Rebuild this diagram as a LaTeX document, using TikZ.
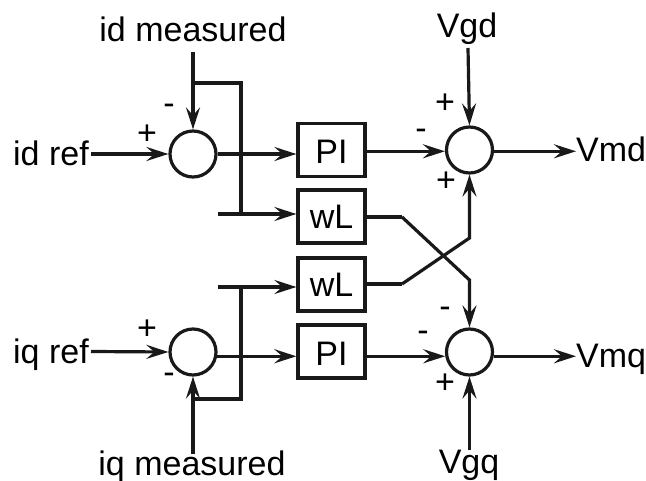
\documentclass[tikz,border=0pt]{standalone}
\usepackage{fontspec}
\setmainfont{Liberation Sans}
\usetikzlibrary{arrows.meta}
\tikzset{
  wire/.style={line width=3.2pt,line join=miter,black!90},
  arrowwire/.style={wire,-{Stealth[length=22pt,width=14pt,inset=8pt]}},
  sumnode/.style={circle,draw=black!90,line width=3.2pt,minimum size=46pt,inner sep=0pt},
  blockbox/.style={rectangle,draw=black!90,line width=3.2pt,minimum width=67pt,minimum height=53pt,inner sep=0pt},
  txt/.style={inner sep=0pt,anchor=base,font=\fontsize{34}{34}\selectfont},
  txtl/.style={txt,anchor=base west},
  sign/.style={inner sep=0pt,font=\fontsize{34}{34}\selectfont}
}
\begin{document}
\begin{tikzpicture}[x=1pt,y=-1pt]
\useasboundingbox (0,0) rectangle (646,481);
% summing junctions
\node[sumnode] (s1) at (193,154) {};
\node[sumnode] (s2) at (469.5,150) {};
\node[sumnode] (s3) at (193,352) {};
\node[sumnode] (s4) at (469.5,352) {};
% blocks
\node[blockbox] (pi1) at (331.5,150) {};
\node[blockbox] (wl1) at (331.5,216.5) {};
\node[blockbox] (wl2) at (331.5,284.5) {};
\node[blockbox] (pi2) at (331.5,351.5) {};
\node[txt] at (331.5,164) {PI};
\node[txt] at (331.5,229) {wL};
\node[txt] at (331.5,297) {wL};
\node[txt] at (331.5,366) {PI};
% texts
\node[txt] (idm) at (193,42) {id measured};
\node[txtl] (idr) at (13,166) {id ref};
\node[txt] (iqm) at (192,475) {iq measured};
\node[txtl] (iqr) at (13,363) {iq ref};
\node[txt] (vgd) at (467,38) {Vgd};
\node[txtl] (vmd) at (576,162) {Vmd};
\node[txt] (vgq) at (469,473) {Vgq};
\node[txtl] (vmq) at (576,368) {Vmq};
% signs
\node[sign] at (147,135) {+};
\node[sign] at (169,109) {-};
\node[sign] at (445,104) {+};
\node[sign] at (421,134) {-};
\node[sign] at (446,182) {+};
\node[sign] at (147,330) {+};
\node[sign] at (169,378) {-};
\node[sign] at (445,312) {-};
\node[sign] at (423,336) {-};
\node[sign] at (445,384) {+};
% free ends
\coordinate (a1) at (91,154);
\coordinate (a2) at (193,52);
\coordinate (b1) at (193,83);
\coordinate (b2) at (241,83);
\coordinate (b3) at (241,214);
\coordinate (b4) at (218,214);
\coordinate (c1) at (91,351.5);
\coordinate (c2) at (193,454);
\coordinate (d1) at (193,399);
\coordinate (d2) at (241,399);
\coordinate (d3) at (241,287);
\coordinate (d4) at (218,287);
\coordinate (e1) at (468,48);
\coordinate (f1) at (469.5,450);
\coordinate (g1) at (402,217);
\coordinate (g2) at (469.5,280);
\coordinate (h1) at (402,284);
\coordinate (h2) at (469.5,238);
% connectors
\draw[arrowwire] (a1) -- (s1.west);
\draw[arrowwire] (a2) -- (s1.north);
\draw[wire] (b1) -- (b2) -- (b3);
\draw[arrowwire] (s1.east) -- (pi1.west |- s1.east);
\draw[arrowwire] (b4) -- (wl1.west |- b4);
\draw[arrowwire] (c1) -- (s3.west);
\draw[arrowwire] (c2) -- (s3.south);
\draw[wire] (d1) -- (d2) -- (d3);
\draw[arrowwire] (s3.350) -- (pi2.west |- s3.350);
\draw[arrowwire] (d4) -- (wl2.west |- d4);
\draw[arrowwire] (e1) -- (s2.north);
\draw[arrowwire] (pi1.east |- s2.183) -- (s2.183);
\draw[arrowwire] (s2.357) -- (vmd.west |- s2.357);
\draw[wire] (wl1.east |- g1) -- (g1);
\draw[arrowwire] (g1) -- (g2) -- (s4.north);
\draw[wire] (wl2.east |- h1) -- (h1);
\draw[arrowwire] (h1) -- (h2) -- (s2.south);
\draw[arrowwire] (pi2.east |- s4.190) -- (s4.190);
\draw[arrowwire] (s4.350) -- (vmq.west |- s4.350);
\draw[arrowwire] (f1) -- (s4.south);
\end{tikzpicture}
\end{document}
